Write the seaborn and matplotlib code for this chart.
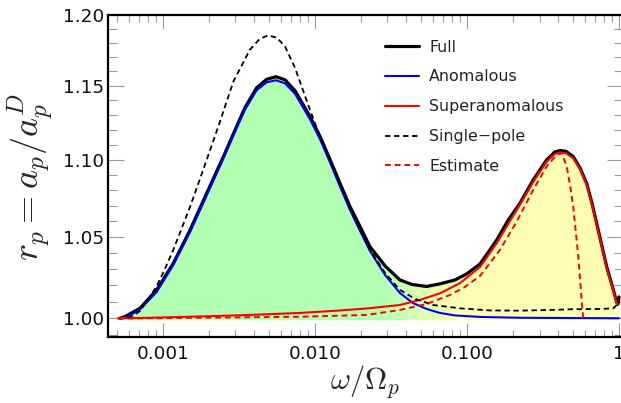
import numpy as np
import matplotlib
matplotlib.use("Agg")
import matplotlib.pyplot as plt
import seaborn as sns
from matplotlib.colors import to_rgb
from matplotlib.ticker import FixedLocator, FixedFormatter, LogLocator, NullFormatter

# omega / Omega_p and r_p = a_p / a_p^D for each model
full_w = [5.21e-4, 5.62e-4, 7.06e-4, 9.09e-4, 1.17e-3, 1.51e-3, 1.94e-3, 2.50e-3, 3.05e-3,
          3.46e-3, 4.13e-3, 4.81e-3, 5.54e-3, 6.35e-3, 7.39e-3, 9.27e-3, 1.08e-2, 1.26e-2,
          1.46e-2, 1.70e-2, 1.98e-2, 2.30e-2, 2.89e-2, 3.62e-2, 4.35e-2, 5.43e-2, 6.64e-2,
          8.34e-2, 9.95e-2, 0.122, 0.157, 0.187, 0.223, 0.273, 0.334, 0.379, 0.409, 0.448,
          0.500, 0.554, 0.612, 0.661, 0.713, 0.830, 0.918, 0.966, 0.985, 1.0]
full_r = [1.000, 1.001, 1.0060, 1.0172, 1.0336, 1.0546, 1.0781, 1.1021, 1.1222,
          1.1349, 1.1486, 1.1545, 1.1563, 1.1542, 1.1466, 1.1290, 1.1155, 1.0999,
          1.0846, 1.0695, 1.0567, 1.0440, 1.0320, 1.0233, 1.0205, 1.0193, 1.0209,
          1.0233, 1.0270, 1.0332, 1.0482, 1.0609, 1.0716, 1.0868, 1.0999, 1.1052, 1.1061, 1.1056,
          1.1021, 1.0946, 1.0846, 1.0725, 1.0588, 1.0315, 1.0172, 1.0098, 1.0086, 1.0129]

anom_w = [5.21e-4, 5.80e-4, 7.06e-4, 9.09e-4, 1.17e-3, 1.51e-3, 1.94e-3, 2.50e-3, 3.05e-3,
          3.46e-3, 4.13e-3, 4.81e-3, 5.54e-3, 6.35e-3, 7.39e-3, 9.27e-3, 1.08e-2, 1.26e-2,
          1.46e-2, 1.70e-2, 1.98e-2, 2.30e-2, 2.89e-2, 3.62e-2, 4.41e-2, 5.43e-2, 6.64e-2,
          8.34e-2, 0.122, 0.223, 0.554, 1.0]
anom_r = [1.000, 1.0008, 1.0053, 1.0159, 1.0326, 1.0533, 1.0767, 1.1009, 1.1210,
          1.1335, 1.1469, 1.1524, 1.1538, 1.1517, 1.1445, 1.1271, 1.1136, 1.0979,
          1.0825, 1.0673, 1.0539, 1.0413, 1.0264, 1.0153, 1.0092, 1.0056, 1.0032,
          1.0017, 1.0008, 1.0003, 1.0001, 1.0000]

super_w = [5.06e-4, 8.21e-4, 1.75e-3, 3.73e-3, 7.96e-3, 1.46e-2, 2.19e-2, 3.62e-2, 4.91e-2,
           6.64e-2, 8.99e-2, 0.122, 0.157, 0.192, 0.223, 0.273, 0.334, 0.379, 0.409, 0.448,
           0.500, 0.554, 0.612, 0.661, 0.713, 0.830, 0.918, 0.966, 0.985]
super_r = [1.0000, 1.0003, 1.0011, 1.0020, 1.0032, 1.0047, 1.0059, 1.0080, 1.0111,
           1.0151, 1.0213, 1.0314, 1.0462, 1.0603, 1.0706, 1.0855, 1.0986, 1.1039, 1.1048, 1.1043,
           1.1009, 1.0937, 1.0835, 1.0715, 1.0577, 1.0307, 1.0166, 1.0091, 1.0080]

pole_w = [5.89e-4, 6.55e-4, 7.06e-4, 8.21e-4, 9.09e-4, 1.00e-3, 1.17e-3, 1.51e-3, 1.94e-3,
          2.37e-3, 2.90e-3, 3.73e-3, 4.34e-3, 4.93e-3, 5.62e-3, 6.35e-3, 7.39e-3, 9.27e-3,
          1.08e-2, 1.26e-2, 1.46e-2, 1.70e-2, 1.98e-2, 2.30e-2, 2.89e-2, 3.62e-2, 4.55e-2,
          6.00e-2, 8.99e-2, 0.142, 0.223, 0.352, 0.476, 0.750, 0.918, 0.966, 1.0]
pole_r = [1.000, 1.0023, 1.0044, 1.0129, 1.0196, 1.0274, 1.0420, 1.0695, 1.0999,
          1.1254, 1.1528, 1.1752, 1.1830, 1.1854, 1.1837, 1.1775, 1.1625, 1.1335,
          1.1153, 1.0993, 1.0835, 1.0680, 1.0546, 1.0420, 1.0276, 1.0172, 1.0117,
          1.0080, 1.0060, 1.0047, 1.0046, 1.0050, 1.0054, 1.0056, 1.0060, 1.0080, 1.0123]

est_w = [5.06e-4, 1.75e-3, 7.96e-3, 2.19e-2, 3.62e-2, 5.43e-2, 7.73e-2, 9.70e-2, 0.122,
         0.165, 0.212, 0.273, 0.334, 0.389, 0.420, 0.453, 0.476, 0.500, 0.540, 0.568, 0.582]
est_r = [0.9998, 1.0003, 1.0009, 1.0020, 1.0050, 1.0086, 1.0141, 1.0190, 1.0258,
         1.0420, 1.0597, 1.0803, 1.0955, 1.1033, 1.1044, 1.0955, 1.0835, 1.0695, 1.0378,
         1.0111, 0.9996]

x_ticks = [1e-3, 1e-2, 1e-1, 1.0]
x_tick_labels = ["0.001", "0.010", "0.100", "1"]
y_ticks = [1.00, 1.05, 1.10, 1.15, 1.20]
y_tick_labels = ["1.00", "1.05", "1.10", "1.15", "1.20"]

sns.set_style("ticks")
plt.rcParams["font.family"] = ["DejaVu Sans"]
plt.rcParams["mathtext.fontset"] = "cm"

W, H = 621, 403
fig = plt.figure(figsize=(W / 100, H / 100), dpi=100)
left_px, right_px, top_px, bottom_px = 108, 622.9, 15, 337
ax = fig.add_axes([left_px / W, 1 - bottom_px / H, (right_px - left_px) / W, (bottom_px - top_px) / H])
ax.set_xscale("log")
ax.set_yscale("log")
xmin, xmax = 4.35e-4, 1.061
ax.set_xlim(xmin, xmax)
ax.set_ylim(0.9888, 1.20)

# shaded area under the full response, green fading to yellow
green = np.array(to_rgb("#b3ffb3"))
yellow = np.array(to_rgb("#ffffb3"))
ncol = 600
lx = np.log10(xmin) + (np.arange(ncol) + 0.5) / ncol * (np.log10(xmax) - np.log10(xmin))
t = np.clip((lx + 1.55) / 0.5, 0, 1)[:, None]
grad = (green * (1 - t) + yellow * t)[None, :, :]
im = ax.imshow(grad, extent=[0, 1, 0, 1], transform=ax.transAxes, aspect="auto",
               interpolation="bilinear", zorder=0.5)
area = ax.fill_between(full_w, 0.9988, full_r, facecolor="none", edgecolor="none", zorder=0.4)
im.set_clip_path(area.get_paths()[0], transform=ax.transData)

common = dict(ax=ax, estimator=None, sort=False)
sns.lineplot(x=full_w, y=full_r, color="black", lw=2.3, label="Full", zorder=2, **common)
sns.lineplot(x=anom_w, y=anom_r, color="#0000ff", lw=1.5, label="Anomalous", zorder=3, **common)
sns.lineplot(x=super_w, y=super_r, color="#ff0000", lw=1.5, label="Superanomalous", zorder=3, **common)
sns.lineplot(x=pole_w, y=pole_r, color="black", lw=1.3, linestyle=(0, (3, 2)),
             label="Single\u2212pole", zorder=4, **common)
sns.lineplot(x=est_w, y=est_r, color="#ff0000", lw=1.4, linestyle=(0, (3, 2)),
             label="Estimate", zorder=4, **common)

ax.xaxis.set_major_locator(FixedLocator(x_ticks))
ax.xaxis.set_major_formatter(FixedFormatter(x_tick_labels))
ax.xaxis.set_minor_locator(LogLocator(base=10, subs=np.arange(2, 10), numticks=20))
ax.xaxis.set_minor_formatter(NullFormatter())
ax.yaxis.set_major_locator(FixedLocator(y_ticks))
ax.yaxis.set_major_formatter(FixedFormatter(y_tick_labels))
ax.yaxis.set_minor_locator(FixedLocator([v / 100 for v in range(99, 120) if v % 5 != 0]))
ax.yaxis.set_minor_formatter(NullFormatter())

ax.tick_params(which="both", direction="in", top=True, right=True, color="#9a9a9a",
               width=0.8, labelsize=13.3, labelcolor="#111111")
ax.tick_params(axis="x", which="major", length=10, pad=6)
ax.tick_params(axis="x", which="minor", length=5)
ax.tick_params(axis="y", which="major", length=11.5, pad=3)
ax.tick_params(axis="y", which="minor", length=6.5)
for s in ax.spines.values():
    s.set_linewidth(1.6)
    s.set_color("black")

ax.set_xlabel("")
ax.set_ylabel("")
fig.text(30 / W, 1 - 177 / H, r"$r_p = a_p/a_p^D$", rotation=90, ha="center", va="center", fontsize=26)
fig.text(365 / W, 1 - 382 / H, r"$\omega/\Omega_p$", ha="center", va="center", fontsize=22)

ax.legend(loc="upper left", bbox_to_anchor=(385 / W, 1 - 39.5 / H), bbox_transform=fig.transFigure,
          frameon=False, fontsize=11.4, handlelength=2.15, handletextpad=0.63,
          labelspacing=0.94, borderpad=0, borderaxespad=0, labelcolor="#222222")

fig.savefig("out.png", dpi=100)
